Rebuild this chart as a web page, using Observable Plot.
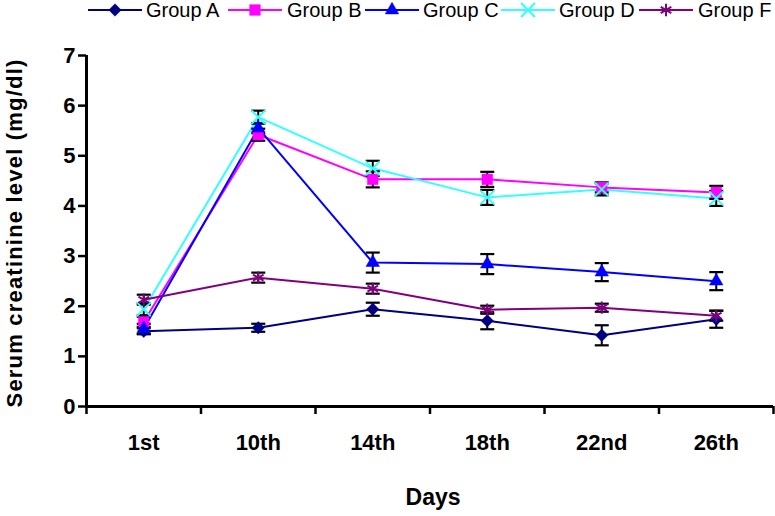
<!DOCTYPE html>
<html>
<head>
<meta charset="utf-8">
<script src="https://cdn.jsdelivr.net/npm/d3@7"></script>
<script src="https://cdn.jsdelivr.net/npm/@observablehq/plot@0.6"></script>
<style>
  html, body { margin: 0; padding: 0; background: #fff; }
  body { width: 775px; height: 516px; overflow: hidden; font-family: "Liberation Sans", Arial, sans-serif; }
  #legend { position: relative; height: 24px; width: 775px; }
  #legend .sw { position: absolute; top: 0; }
  #legend .lb { position: absolute; top: 0px; font-size: 20px; line-height: 20px; color: #000; white-space: nowrap; }
</style>
</head>
<body>
<div id="legend"></div>
<div id="chart"></div>
<script>
// ---- data ----
const days = ["1st", "10th", "14th", "18th", "22nd", "26th"];
const groups = ["Group A", "Group B", "Group C", "Group D", "Group F"];
const groupA = [1.50, 1.57, 1.94, 1.71, 1.42, 1.74];
const groupB = [1.69, 5.42, 4.53, 4.53, 4.37, 4.27];
const groupC = [1.55, 5.55, 2.87, 2.84, 2.68, 2.50];
const groupD = [1.94, 5.77, 4.75, 4.17, 4.33, 4.15];
const groupF = [2.13, 2.57, 2.35, 1.93, 1.97, 1.81];
const errA = [0.06, 0.08, 0.13, 0.17, 0.20, 0.17];
const errB = [0.10, 0.12, 0.16, 0.15, 0.10, 0.13];
const errC = [0.10, 0.10, 0.20, 0.20, 0.18, 0.18];
const errD = [0.12, 0.13, 0.15, 0.15, 0.12, 0.15];
const errF = [0.10, 0.10, 0.10, 0.08, 0.08, 0.10];
const yTicks = [0, 1, 2, 3, 4, 5, 6, 7];
const yTitle = "Serum creatinine level (mg/dl)";
const xTitle = "Days";

// ---- styles ----
const colors = ["#000080", "#FF00FF", "#0000FF", "#33FFFF", "#800080"];
const symbols = ["diamond2", "square", "triangle", "times", "asterisk"];
const symbolR = [5.6, 6.0, 5.0, 6.4, 5.8];
const filled = [true, true, true, false, false];

const values = [groupA, groupB, groupC, groupD, groupF];
const errs = [errA, errB, errC, errD, errF];

const rows = [];
groups.forEach((g, gi) => {
  days.forEach((d, i) => {
    rows.push({group: g, gi, i, day: d, v: values[gi][i], e: errs[gi][i]});
  });
});

const xDomain = [-0.5, days.length - 0.5];
const yDomain = [0, 7];
const boundaries = d3.range(days.length + 1).map(k => k - 0.5);

const capSymbol = { draw(ctx) { ctx.moveTo(-7, 0); ctx.lineTo(7, 0); } };

const marks = [];
// lines
groups.forEach((g, gi) => {
  marks.push(Plot.line(rows.filter(r => r.gi === gi), {x: "i", y: "v", stroke: colors[gi], strokeWidth: 2}));
});
// error bars
marks.push(Plot.ruleX(rows, {x: "i", y1: d => d.v - d.e, y2: d => d.v + d.e, stroke: "#000", strokeWidth: 2}));
marks.push(Plot.dot(rows, {x: "i", y: d => d.v + d.e, symbol: capSymbol, r: 5, fill: "none", stroke: "#000", strokeWidth: 2.2}));
marks.push(Plot.dot(rows, {x: "i", y: d => d.v - d.e, symbol: capSymbol, r: 5, fill: "none", stroke: "#000", strokeWidth: 2.2}));
// markers
groups.forEach((g, gi) => {
  const sub = rows.filter(r => r.gi === gi);
  marks.push(Plot.dot(sub, {
    x: "i", y: "v", symbol: symbols[gi], r: symbolR[gi],
    fill: filled[gi] ? colors[gi] : "none",
    stroke: colors[gi], strokeWidth: filled[gi] ? 0.5 : 2
  }));
});
// axes
marks.push(Plot.ruleX([xDomain[0]], {y1: yDomain[0], y2: yDomain[1], stroke: "#000", strokeWidth: 3}));
marks.push(Plot.ruleY([yDomain[0]], {x1: xDomain[0], x2: xDomain[1], stroke: "#000", strokeWidth: 3}));
marks.push(Plot.axisY({ticks: yTicks, tickSize: 8, tickPadding: 3, strokeWidth: 2.5, label: null,
  tickFormat: d => String(d), fontSize: 22, fontWeight: "bold", fill: "#000"}));
marks.push(Plot.axisX({ticks: boundaries, tickSize: 8, tickFormat: () => "", strokeWidth: 2.5, label: null}));
marks.push(Plot.axisX({ticks: d3.range(days.length), tickSize: 0, tickPadding: 28, tickFormat: i => days[i],
  label: null, fontSize: 22, fontWeight: "bold", fill: "#000"}));
marks.push(Plot.text([yTitle], {text: d => d, frameAnchor: "left", textAnchor: "middle", lineAnchor: "middle",
  dx: -72, dy: 2, rotate: -90, fontSize: 22, fontWeight: "bold", fill: "#000"}));
marks.push(Plot.text([xTitle], {text: d => d, frameAnchor: "bottom", textAnchor: "middle", lineAnchor: "middle",
  dy: 91, dx: 3, fontSize: 23, fontWeight: "bold", fill: "#000"}));

const chart = Plot.plot({
  width: 775,
  height: 492,
  marginLeft: 86,
  marginRight: 2,
  marginTop: 31,
  marginBottom: 110,
  style: {fontFamily: "'Liberation Sans', Arial, sans-serif", color: "#000", background: "#fff", overflow: "visible"},
  x: {type: "linear", domain: xDomain, axis: null},
  y: {domain: yDomain, axis: null},
  marks
});
document.getElementById("chart").appendChild(chart);
// stretch the rotated y title slightly (original font has wider tracking)
d3.select(chart).selectAll("text").filter(function() { return this.textContent === yTitle; })
  .attr("letter-spacing", "1.2px");

// ---- legend ----
const legend = document.getElementById("legend");
const lineStarts = [88, 228, 365, 501, 639];
const labelStarts = [146, 287, 423, 559, 698];
groups.forEach((g, gi) => {
  const w = 54;
  const svg = d3.create("svg").attr("class", "sw").attr("width", w).attr("height", 22)
    .style("left", lineStarts[gi] + "px");
  svg.append("line").attr("x1", 0).attr("x2", w).attr("y1", 10).attr("y2", 10)
    .attr("stroke", colors[gi]).attr("stroke-width", 2);
  const symMap = {diamond2: d3.symbolDiamond2, square: d3.symbolSquare, triangle: d3.symbolTriangle,
    times: d3.symbolTimes, asterisk: d3.symbolAsterisk};
  const r = symbolR[gi];
  svg.append("path")
    .attr("d", d3.symbol(symMap[symbols[gi]], r * r * Math.PI)())
    .attr("transform", `translate(${w / 2},10)`)
    .attr("fill", filled[gi] ? colors[gi] : "none")
    .attr("stroke", colors[gi]).attr("stroke-width", filled[gi] ? 0.5 : 2);
  legend.appendChild(svg.node());
  const lb = document.createElement("div");
  lb.className = "lb";
  lb.style.left = labelStarts[gi] + "px";
  lb.textContent = g;
  legend.appendChild(lb);
});
</script>
</body>
</html>
